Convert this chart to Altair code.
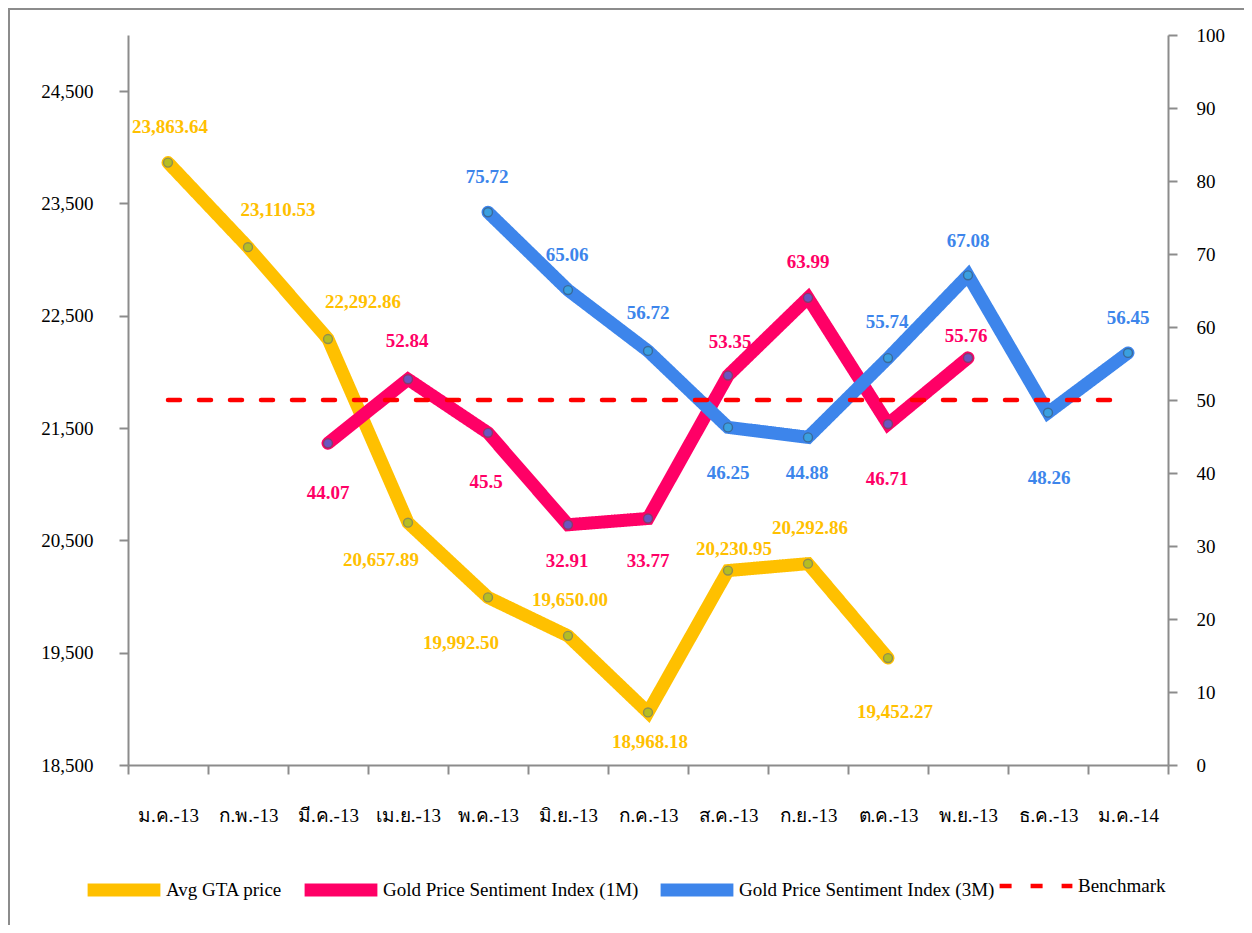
import altair as alt
import pandas as pd

# ---------------- data ----------------
months = ["ม.ค.-13", "ก.พ.-13", "มี.ค.-13", "เม.ย.-13", "พ.ค.-13", "มิ.ย.-13", "ก.ค.-13",
          "ส.ค.-13", "ก.ย.-13", "ต.ค.-13", "พ.ย.-13", "ธ.ค.-13", "ม.ค.-14"]
avg_gta = [23863.64, 23110.53, 22292.86, 20657.89, 19992.50, 19650.00, 18968.18,
           20230.95, 20292.86, 19452.27, None, None, None]
gpsi_1m = [None, None, 44.07, 52.84, 45.5, 32.91, 33.77, 53.35, 63.99, 46.71, 55.76, None, None]
gpsi_3m = [None, None, None, None, 75.72, 65.06, 56.72, 46.25, 44.88, 55.74, 67.08, 48.26, 56.45]
benchmark = [50] * 13

series_names = ["Avg GTA price", "Gold Price Sentiment Index (1M)",
                "Gold Price Sentiment Index (3M)", "Benchmark"]
left_ticks = [18500, 19500, 20500, 21500, 22500, 23500, 24500]
right_ticks = [0, 10, 20, 30, 40, 50, 60, 70, 80, 90, 100]

# ---------------- style ----------------
colors = ["#FFC000", "#FF0066", "#3D85EB", "#FF0000"]
FONT = "Liberation Serif"
W, H = 1040, 730
LEFT_DOM = [18500, 25000]
RIGHT_DOM = [0, 100]
# label offsets in pixels (dx, dy) for each plotted point
avg_off = [(2, -36), (30, -37), (35, -37), (-27, 37), (-27, 46), (2, -36), (2, 30),
           (6, -22), (2, -36), (7, 54)]
m1_off = [(0, 50), (-1, -38), (-2, 49), (-1, 36), (0, 43), (2, -34), (0, -36), (-1, 55), (-2, -22)]
m3_off = [(-1, -35), (-1, -35), (0, -38), (0, 46), (-1, 36), (-1, -36), (0, -34), (1, 65), (0, -35)]

rows = []
for name, vals in zip(series_names, [avg_gta, gpsi_1m, gpsi_3m, benchmark]):
    for i, v in enumerate(vals):
        if v is not None:
            rows.append({"idx": i, "series": name, "value": v})
df = pd.DataFrame(rows)


def label_frame(vals, offs, dom, fmt):
    out = []
    pts = [(i, v) for i, v in enumerate(vals) if v is not None]
    span = dom[1] - dom[0]
    for (i, v), (dx, dy) in zip(pts, offs):
        out.append({"lx": i + dx / (W / 13.0), "ly": v - dy * span / H, "label": fmt(v)})
    return pd.DataFrame(out)


avg_lab = label_frame(avg_gta, avg_off, LEFT_DOM, lambda v: f"{v:,.2f}")
m1_lab = label_frame(gpsi_1m, m1_off, RIGHT_DOM, lambda v: f"{v:g}")
m3_lab = label_frame(gpsi_3m, m3_off, RIGHT_DOM, lambda v: f"{v:g}")

# ---------------- scales / axes ----------------
xscale = alt.Scale(domain=[-0.5, 12.5], nice=False, zero=False)
month_arr = "[" + ",".join("'" + m + "'" for m in months) + "]"
xaxis = alt.Axis(
    values=[i - 0.5 for i in range(14)],
    labelExpr=f"datum.value + 0.5 < 13 ? {month_arr}[datum.value + 0.5] : ''",
    labelOffset=W / 13.0 / 2, labelAlign="center", labelBaseline="middle",
    labelPadding=41, labelFlush=False, labelOverlap=False, labelBound=False,
    title=None, grid=False,
)
yl_scale = alt.Scale(domain=LEFT_DOM, nice=False, zero=False)
yl_axis = alt.Axis(values=left_ticks, labelExpr="format(datum.value, ',')", orient="left",
                   title=None, labelPadding=26, grid=False, labelOverlap=False)
yr_scale = alt.Scale(domain=RIGHT_DOM, nice=False, zero=False)
yr_axis = alt.Axis(values=right_ticks, orient="right", title=None,
                   labelPadding=19, grid=False, labelOverlap=False)


def X(field):
    return alt.X(field, type="quantitative", scale=xscale, axis=xaxis)


def YL(field):
    return alt.Y(field, type="quantitative", scale=yl_scale, axis=yl_axis)


def YR(field):
    return alt.Y(field, type="quantitative", scale=yr_scale, axis=yr_axis)


legend = alt.Legend(
    orient="none", legendX=-47, legendY=812, direction="horizontal", columns=4,
    title=None, symbolType="stroke", symbolSize=5300, labelOffset={"expr": "-1"},
    columnPadding={"expr": "-5"}, labelFont=FONT, labelFontSize=19, labelColor="black",
    labelLimit=600, gridAlign="none",
    symbolStrokeWidth={"expr": "datum.value == 'Benchmark' ? 4.5 : 13"},
)
color_enc = alt.Color("series:N", scale=alt.Scale(domain=series_names, range=colors), legend=legend)
dash_enc = alt.StrokeDash("series:N", scale=alt.Scale(domain=series_names,
                          range=[[1, 0], [1, 0], [1, 0], [12, 19]]), legend=legend)
sw_enc = alt.StrokeWidth("series:N", scale=alt.Scale(type="ordinal", domain=series_names,
                         range=[13, 13, 13, 4.5]), legend=None)

base = alt.Chart(df)

avg_line = base.transform_filter(alt.datum.series == series_names[0]).mark_line(
    strokeCap="round", strokeJoin="miter"
).encode(x=X("idx"), y=YL("value"), color=color_enc, strokeDash=dash_enc, strokeWidth=sw_enc)

avg_pts = base.transform_filter(alt.datum.series == series_names[0]).mark_point(
    filled=True, size=80, fill="#b5bd22", stroke="#8f8f50", strokeWidth=1.4, opacity=1
).encode(x=X("idx"), y=YL("value"))

avg_txt = alt.Chart(avg_lab).mark_text(
    font=FONT, fontSize=19, fontWeight="bold", color=colors[0], baseline="middle"
).encode(x=X("lx"), y=YL("ly"), text="label:N")

left = alt.layer(avg_line, avg_pts, avg_txt)

idx_lines = base.transform_filter(alt.datum.series != series_names[0]).mark_line(
    strokeCap="round", strokeJoin="miter"
).encode(x=X("idx"), y=YR("value"), color=color_enc, strokeDash=dash_enc, strokeWidth=sw_enc,
         order=alt.Order("idx:Q"))

pts_1m = base.transform_filter(alt.datum.series == series_names[1]).mark_point(
    filled=True, size=80, fill="#6a55c0", stroke="#8a3a6a", strokeWidth=1.4, opacity=1
).encode(x=X("idx"), y=YR("value"))
pts_3m = base.transform_filter(alt.datum.series == series_names[2]).mark_point(
    filled=True, size=80, fill="#3aa0e0", stroke="#3a6a9a", strokeWidth=1.4, opacity=1
).encode(x=X("idx"), y=YR("value"))

txt_1m = alt.Chart(m1_lab).mark_text(
    font=FONT, fontSize=19, fontWeight="bold", color=colors[1], baseline="middle"
).encode(x=X("lx"), y=YR("ly"), text="label:N")
txt_3m = alt.Chart(m3_lab).mark_text(
    font=FONT, fontSize=19, fontWeight="bold", color=colors[2], baseline="middle"
).encode(x=X("lx"), y=YR("ly"), text="label:N")

right = alt.layer(idx_lines, pts_1m, pts_3m, txt_1m, txt_3m)

frame = alt.Chart(alt.Data(values=[{}])).mark_rect(
    fill=None, stroke="#8c8c8c", strokeWidth=2
).encode(x=alt.value(-119), y=alt.value(-26), x2=alt.value(1200), y2=alt.value(1000))

chart = alt.layer(frame, left, right).resolve_scale(y="independent").properties(
    width=W, height=H,
    autosize=alt.AutoSizeParams(type="none"),
    padding={"left": 120, "top": 27, "right": 76, "bottom": 160},
    background="white",
).configure_view(stroke=None).configure_axis(
    domainColor="#8c8c8c", domainWidth=2, tickColor="#8c8c8c", tickWidth=2, tickSize=9,
    labelFont=FONT, labelFontSize=19, labelColor="black",
)

chart.save("out.html", embed_options={"renderer": "svg", "actions": False})
